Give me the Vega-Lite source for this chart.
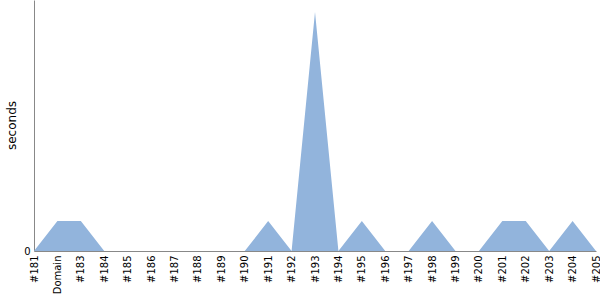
{
  "$schema": "https://vega.github.io/schema/vega-lite/v6.json",
  "width": 562,
  "height": 251,
  "autosize": "none",
  "padding": {"left": 34, "top": 0, "right": 4, "bottom": 49},
  "background": "white",
  "config": {"view": {"stroke": null}, "font": "DejaVu Sans"},
  "data": {"values": [
    {"build": "#181", "seconds": 0},
    {"build": "Domain", "seconds": 1},
    {"build": "#183", "seconds": 1},
    {"build": "#184", "seconds": 0},
    {"build": "#185", "seconds": 0},
    {"build": "#186", "seconds": 0},
    {"build": "#187", "seconds": 0},
    {"build": "#188", "seconds": 0},
    {"build": "#189", "seconds": 0},
    {"build": "#190", "seconds": 0},
    {"build": "#191", "seconds": 1},
    {"build": "#192", "seconds": 0},
    {"build": "#193", "seconds": 8},
    {"build": "#194", "seconds": 0},
    {"build": "#195", "seconds": 1},
    {"build": "#196", "seconds": 0},
    {"build": "#197", "seconds": 0},
    {"build": "#198", "seconds": 1},
    {"build": "#199", "seconds": 0},
    {"build": "#200", "seconds": 0},
    {"build": "#201", "seconds": 1},
    {"build": "#202", "seconds": 1},
    {"build": "#203", "seconds": 0},
    {"build": "#204", "seconds": 1},
    {"build": "#205", "seconds": 0}
  ]},
  "mark": {"type": "area", "color": "#92b4dc", "opacity": 1},
  "encoding": {
    "x": {
      "field": "build", "type": "ordinal", "sort": null,
      "scale": {"type": "point", "padding": 0},
      "axis": {"title": null, "labelAngle": -90, "ticks": false, "grid": false,
               "domainColor": "#888888", "labelColor": "#000000", "labelFontSize": 10,
               "labelPadding": 4, "labelFont": "DejaVu Sans"}
    },
    "y": {
      "field": "seconds", "type": "quantitative",
      "scale": {"domain": [0, 8.4], "nice": false, "zero": true},
      "axis": {"title": "seconds", "values": [0], "ticks": false, "grid": false,
               "domainColor": "#888888", "labelColor": "#000000", "labelFontSize": 10,
               "labelPadding": 4, "titleFontWeight": "normal", "titleFontSize": 12,
               "titleColor": "#000000", "titleX": -16, "titleY": 125, "titleBaseline": "bottom", "labelFont": "DejaVu Sans", "titleFont": "DejaVu Sans"}
    }
  }
}
